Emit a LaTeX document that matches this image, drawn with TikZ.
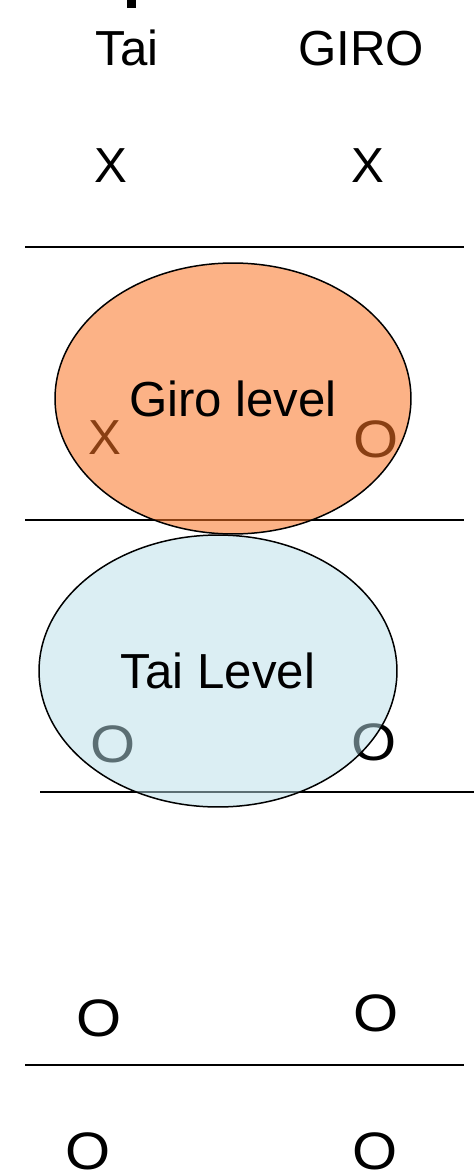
\documentclass[tikz,border=0pt]{standalone}
\usepackage{fontspec}
\setmainfont{Liberation Sans}
\usetikzlibrary{shapes.geometric}

\definecolor{giroorange}{RGB}{250,115,35}
\definecolor{taiblue}{RGB}{183,221,231}

\newcommand{\ringO}{{\fontsize{30}{36}\selectfont\scalebox{1.1}[1]{O}}}

\begin{document}
\begin{tikzpicture}[x=0.02cm,y=-0.02cm,font=\fontsize{28}{34}\selectfont]
  \tikzstyle{sym}=[inner sep=0pt,anchor=base]
  \tikzstyle{level}=[ellipse,draw,line width=0.85pt,inner sep=0pt,text opacity=1]
  \tikzstyle{divider}=[line width=1.1pt]

        \useasboundingbox (0,0) rectangle (474,1173);

        % what is left of the title
        \fill (127,0) rectangle (136,8);

        \node[sym] (taihead)  at (127,65) {Tai};
        \node[sym] (girohead) at (361,65) {GIRO};

        \draw[divider] (25,247) -- (464,247);
        \draw[divider] (25,520) -- (464,520);
        \draw[divider] (40,792) -- (474,792);
        \draw[divider] (25,1065) -- (464,1065);

        \node[sym] (taiA)  at (111,182) {X};
        \node[sym] (giroA) at (368,182) {X};
        \node[sym] (taiB)  at (105,454) {X};
        \node[sym] (giroB) at (376,457) {\ringO};
        \node[sym] (taiC)  at (113,762) {\ringO};
        \node[sym] (giroC) at (374,760) {\ringO};
        \node[sym] (taiD)  at (99,1036) {\ringO};
        \node[sym] (giroD) at (376,1031) {\ringO};
        \node[sym] (taiE)  at (88,1169) {\ringO};
        \node[sym] (giroE) at (375,1169) {\ringO};

        \node[level,fill=giroorange,fill opacity=0.55,minimum width=7.12cm,minimum height=5.42cm]
            (girolevel) at (233,398.5) {Giro level};
        \node[level,fill=taiblue,fill opacity=0.5,minimum width=7.16cm,minimum height=5.44cm]
            (tailevel) at (218,671) {Tai Level};

\end{tikzpicture}
\end{document}
